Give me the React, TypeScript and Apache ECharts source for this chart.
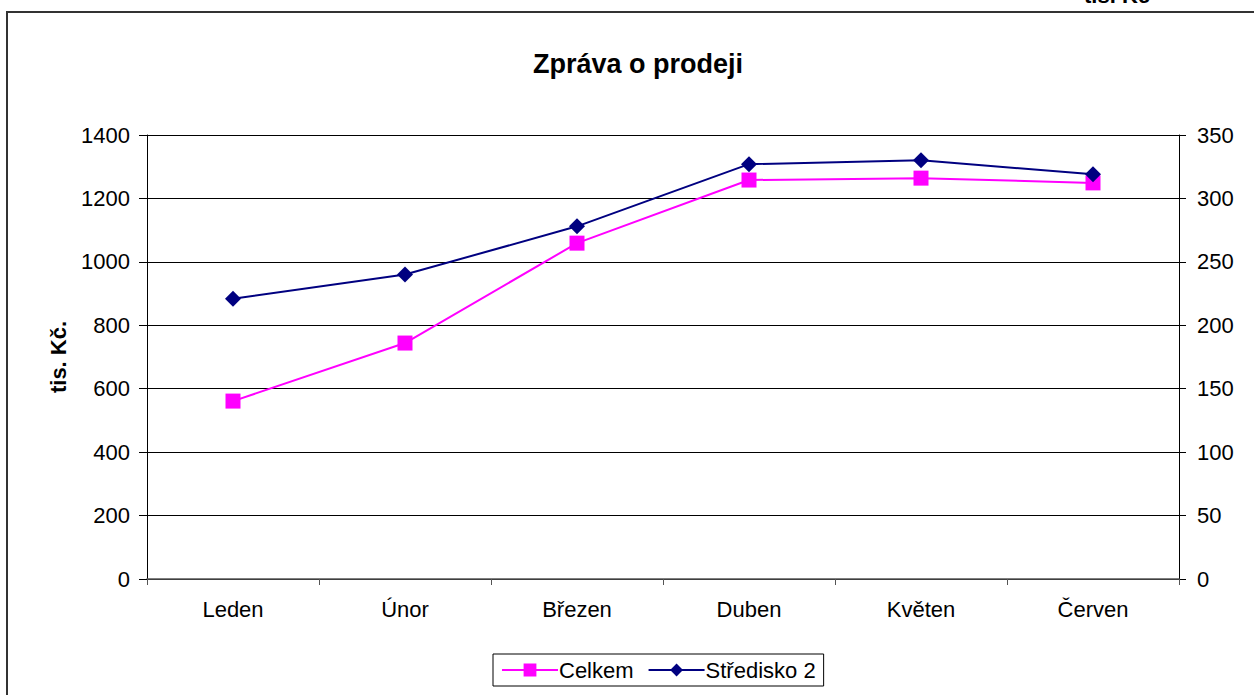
import React, { useEffect, useRef } from "react";
import * as echarts from "echarts";

const categories = ["Leden", "Únor", "Březen", "Duben", "Květen", "Červen"];
const celkem = [561, 744, 1059, 1258, 1264, 1249];
const stredisko2 = [221, 240, 278, 327, 330, 319];
const titleText = "Zpráva o prodeji";
const leftAxisName = "tis. Kč.";
const rightAxisName = "tis. Kč";

export default function App() {
  const ref = useRef<HTMLDivElement>(null);
  useEffect(() => {
    if (!ref.current) return;
    const chart = echarts.init(ref.current, null, { renderer: "svg" });
    const font = "'Liberation Sans', Arial, sans-serif";
    chart.setOption({
      animation: false,
      backgroundColor: "#fff",
      textStyle: { fontFamily: font },
      title: {
        text: titleText,
        left: 528,
        top: 45,
        textStyle: { fontSize: 27, fontWeight: "bold", color: "#000", fontFamily: font },
      },
      graphic: [
        {
          type: "rect",
          shape: { x: 7, y: 12, width: 1300, height: 720 },
          style: { fill: "none", stroke: "#333", lineWidth: 2 },
          silent: true,
        },
        {
          type: "text",
          left: 1084,
          top: -16,
          style: { text: rightAxisName, font: `bold 22px ${font}`, fill: "#000" },
        },
      ],
      legend: {
        bottom: 9,
        left: 493,
        itemWidth: 56,
        itemHeight: 16,
        itemGap: 14,
        padding: [5, 8, 5, 8],
        borderColor: "#000",
        borderWidth: 1,
        borderRadius: 0,
        textStyle: { fontSize: 22, color: "#000", fontFamily: font, padding: [0, 0, 0, -4] },
        data: ["Celkem", "Středisko 2"],
      },
      grid: { left: 147, right: 75, top: 135, bottom: 116, containLabel: false },
      xAxis: {
        type: "category",
        data: categories,
        boundaryGap: true,
        axisLine: { lineStyle: { color: "#555", width: 1.5 } },
        axisTick: { show: true, interval: 0, length: 6, lineStyle: { color: "#555" } },
        axisLabel: { fontSize: 22, color: "#000", margin: 19, fontFamily: font },
      },
      yAxis: [
        {
          type: "value",
          min: 0,
          max: 1400,
          interval: 200,
          name: leftAxisName,
          nameLocation: "middle",
          nameGap: 78,
          nameRotate: 90,
          nameTextStyle: { fontSize: 22, fontWeight: "bold", color: "#000", fontFamily: font },
          axisLine: { show: true, lineStyle: { color: "#000", width: 1 } },
          axisTick: { show: true, length: 8, lineStyle: { color: "#000" } },
          axisLabel: {
            fontSize: 22,
            color: "#000",
            margin: 17,
            fontFamily: font,
            formatter: (v: number) => String(v),
          },
          splitLine: { show: true, lineStyle: { color: "#000", width: 1 } },
        },
        {
          type: "value",
          min: 0,
          max: 350,
          interval: 50,
          position: "right",
          axisLine: { show: true, lineStyle: { color: "#000", width: 1 } },
          axisTick: { show: true, length: 7, lineStyle: { color: "#000" } },
          axisLabel: {
            fontSize: 22,
            color: "#000",
            margin: 18,
            fontFamily: font,
            formatter: (v: number) => String(v),
          },
          splitLine: { show: false },
        },
      ],
      series: [
        {
          name: "Celkem",
          type: "line",
          yAxisIndex: 0,
          data: celkem,
          symbol: "rect",
          symbolSize: 15,
          itemStyle: { color: "#FF00FF" },
          lineStyle: { color: "#FF00FF", width: 2 },
          z: 2,
        },
        {
          name: "Středisko 2",
          type: "line",
          yAxisIndex: 1,
          data: stredisko2,
          symbol: "diamond",
          symbolSize: 16,
          itemStyle: { color: "#000080" },
          lineStyle: { color: "#000080", width: 2 },
          z: 3,
        },
      ],
    });
    return () => chart.dispose();
  }, []);
  return (
    <div
      ref={ref}
      style={{ position: "fixed", left: 0, top: 0, width: 1254, height: 695 }}
    />
  );
}
